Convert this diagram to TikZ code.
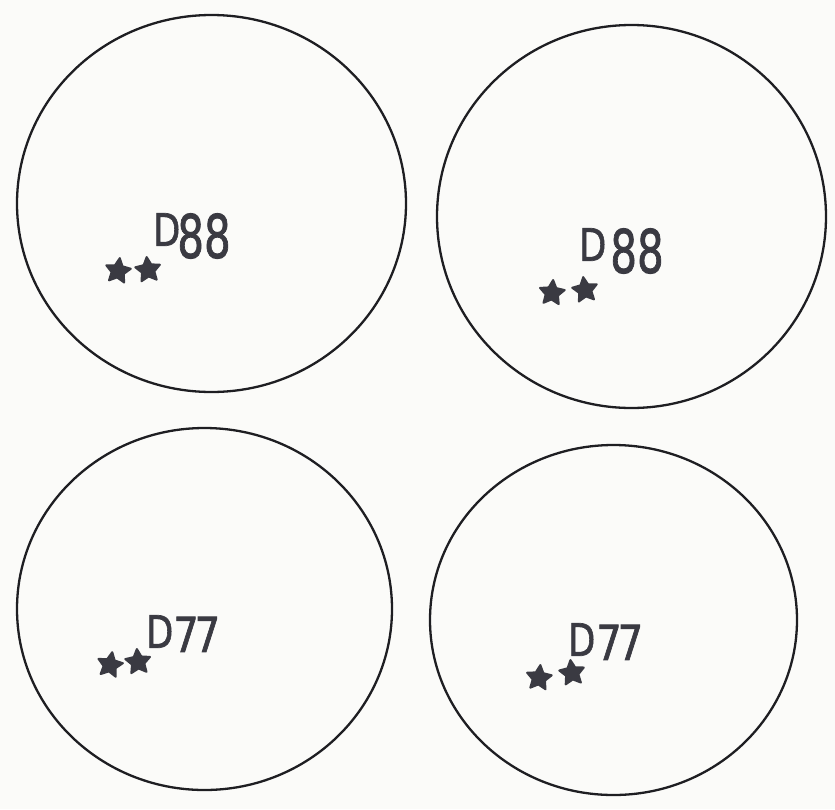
\documentclass[tikz,border=0pt]{standalone}
\usepackage{fontspec}
\setmainfont{DejaVu Sans}
\newfontfamily\lblfont[FakeBold=1.6]{DejaVu Sans}
\usetikzlibrary{shapes.geometric}
\definecolor{ink}{HTML}{3A3A42}
\definecolor{ringc}{HTML}{1E1E22}
\definecolor{paper}{HTML}{FBFBF9}
\newcommand{\tallD}{\raisebox{-2pt}{\scalebox{0.88}[1.12]{D}}}
\newcommand{\eightg}{\raisebox{-14pt}{\scalebox{1.05}[1.5]{8}}}
\newcommand{\seveng}{\raisebox{-6pt}{\scalebox{1}[1.2]{7}}}
\begin{document}
\begin{tikzpicture}[x=1pt,y=-1pt,
  ring/.style={draw=ringc, line width=2.3pt, ellipse, inner sep=0pt},
  starmark/.style={star, star points=5, star point ratio=2.0, fill=ink, draw=ink, line width=2pt, line join=round, minimum size=26pt, inner sep=0pt},
  lbl/.style={text=ink, font=\fontsize{40}{40}\lblfont, inner sep=0pt, anchor=north west}
]
\fill[paper] (0,0) rectangle (835,809);
\useasboundingbox (0,0) rectangle (835,809);

% circles
\node[ring, minimum width=389pt, minimum height=377pt] (c1) at (211.5,203.5) {};
\node[ring, minimum width=389pt, minimum height=383pt] (c2) at (631.5,216.5) {};
\node[ring, minimum width=375pt, minimum height=362pt] (c3) at (204.5,609) {};
\node[ring, minimum width=367pt, minimum height=350pt] (c4) at (613.5,620) {};

% labels
\node[lbl] (t1) at (153,213) {\tallD\kern-3pt\eightg\kern0pt\eightg};
\node[lbl] (t2) at (579,228) {\tallD\kern4pt\eightg\kern0pt\eightg};
\node[lbl] (t3) at (146,615) {\tallD\kern0pt\seveng\kern-4pt\seveng};
\node[lbl] (t4) at (568,623) {\tallD\kern1pt\seveng\kern-4pt\seveng};

% stars
\node[starmark, rotate=-8] (s1a) at (118,271) {};
\node[starmark, rotate=6] (s1b) at (148,270) {};
\node[starmark, rotate=-5] (s2a) at (552,293) {};
\node[starmark, rotate=8] (s2b) at (585,290) {};
\node[starmark, rotate=-10] (s3a) at (110,665) {};
\node[starmark, rotate=5] (s3b) at (138,662) {};
\node[starmark, rotate=-6] (s4a) at (539,678) {};
\node[starmark, rotate=7] (s4b) at (572,673) {};
\end{tikzpicture}
\end{document}
